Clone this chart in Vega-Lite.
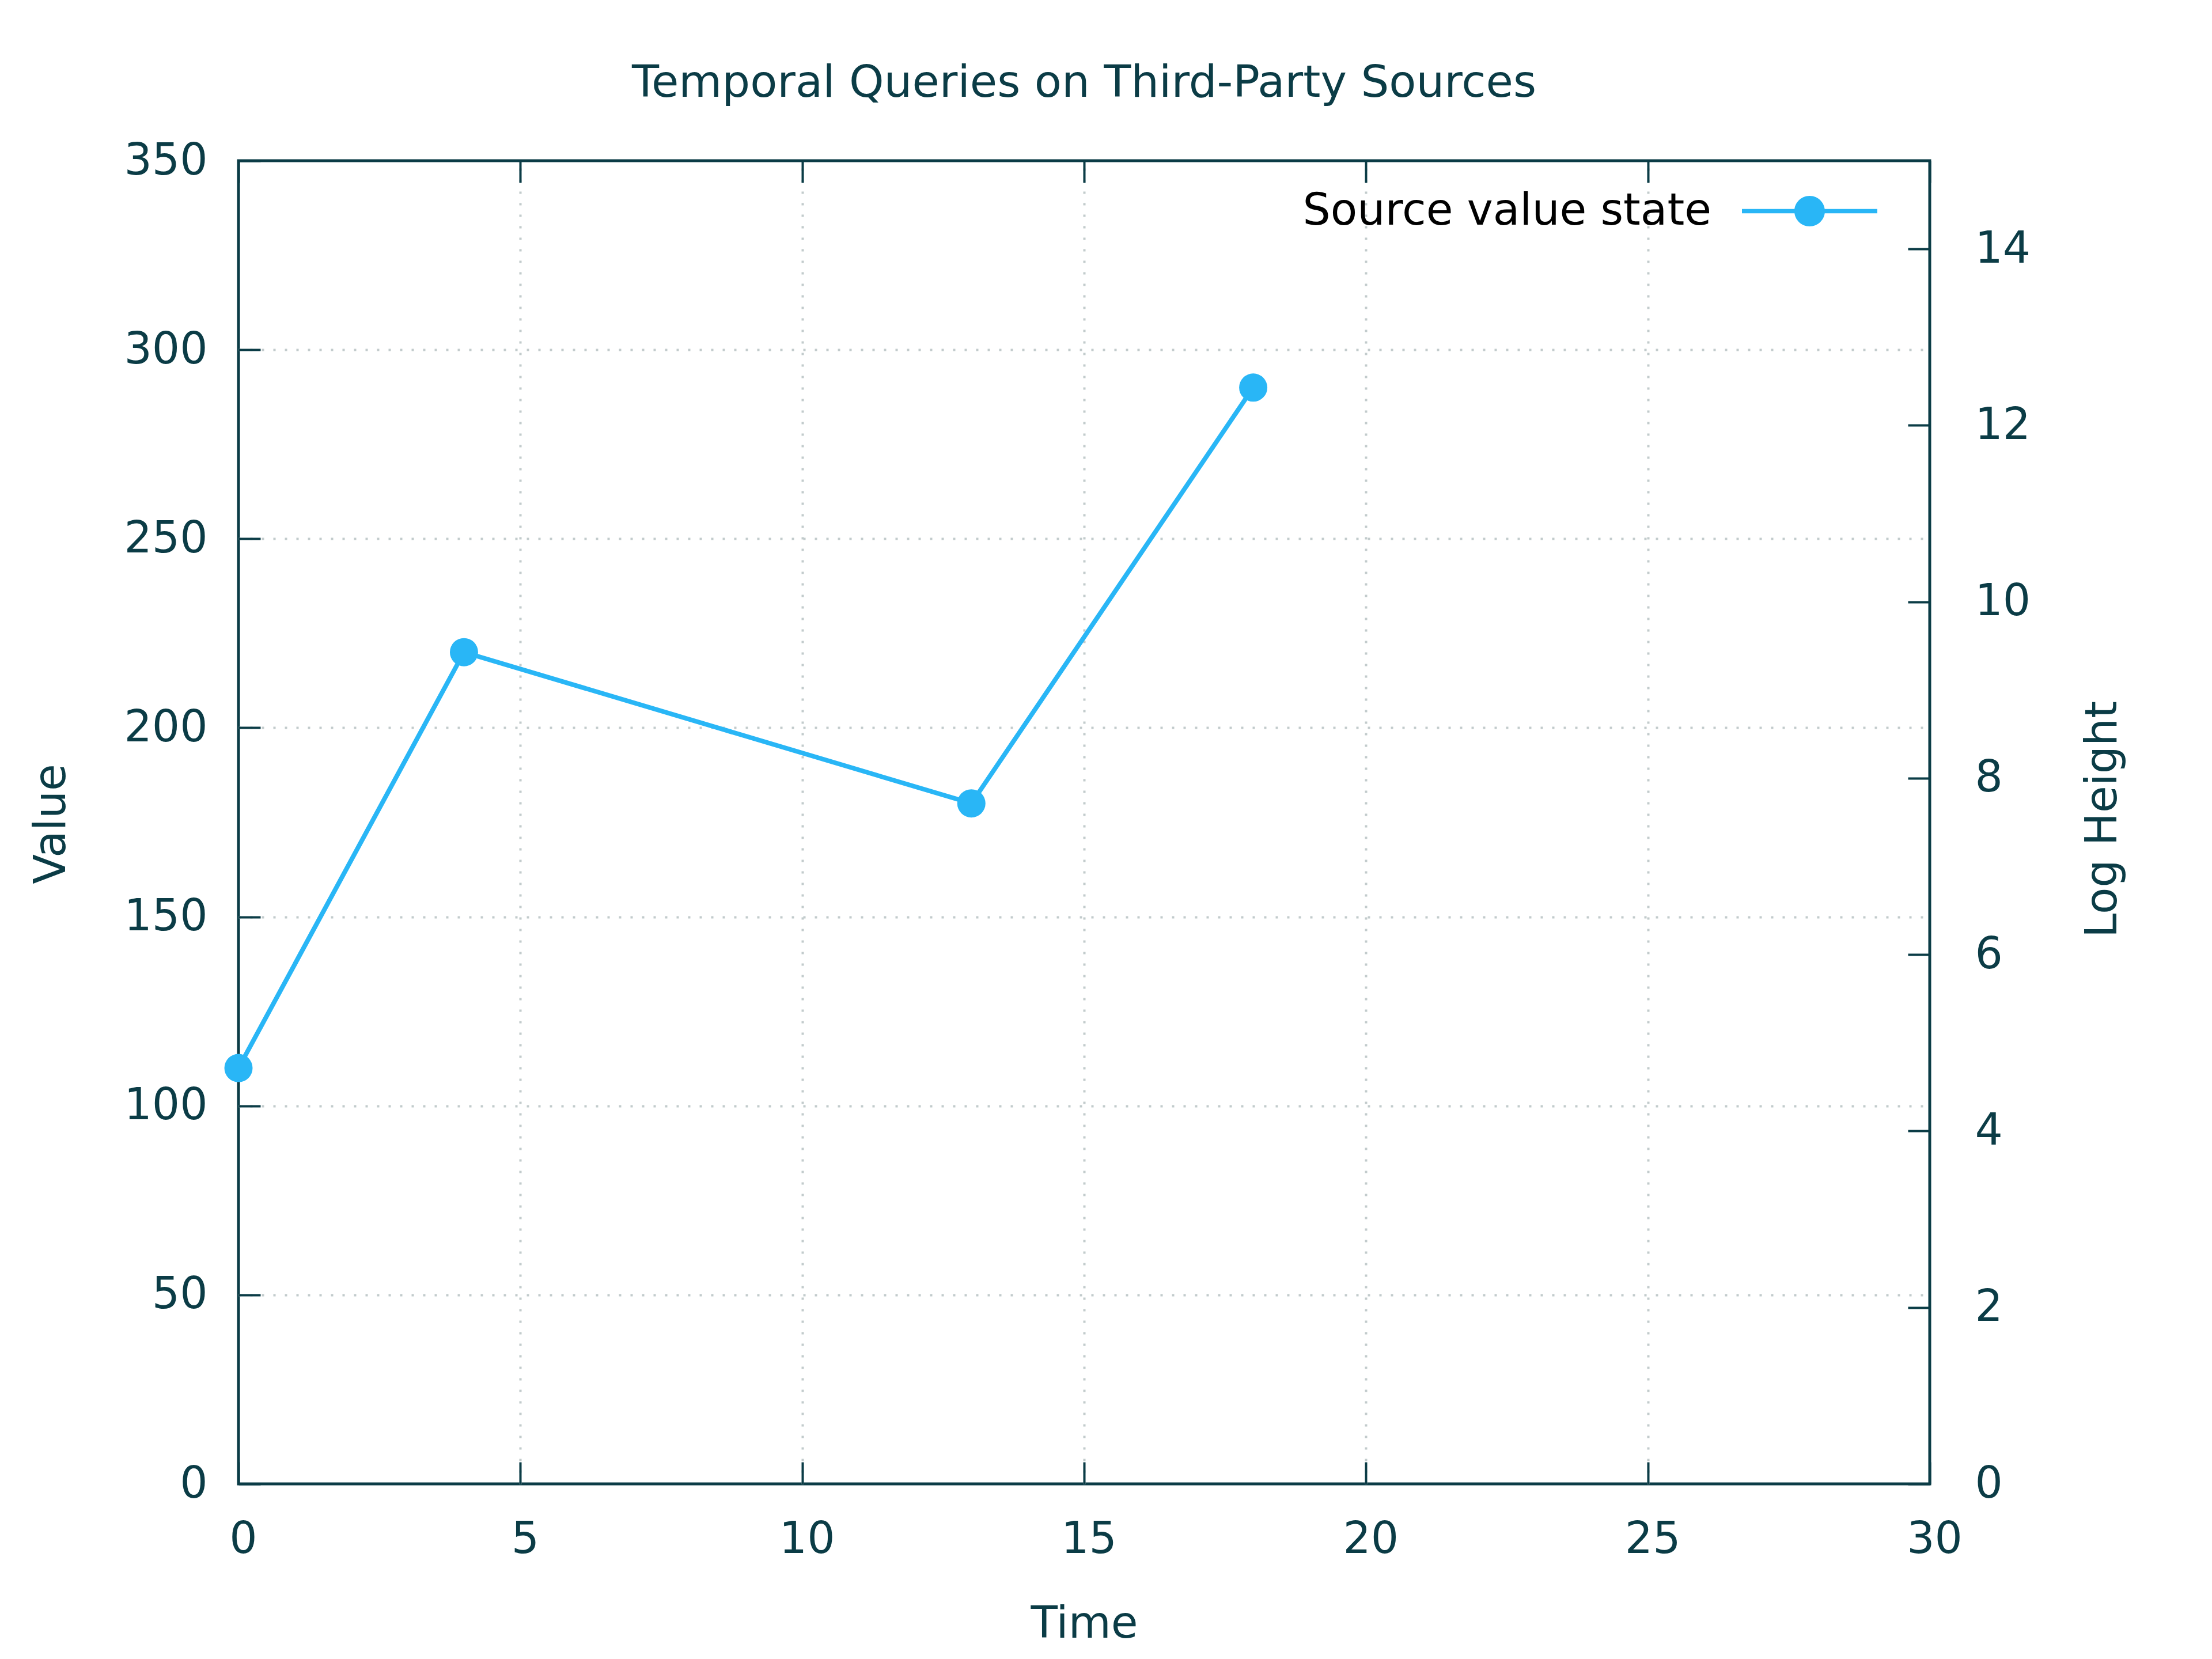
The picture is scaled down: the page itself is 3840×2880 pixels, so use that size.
{
  "$schema": "https://vega.github.io/schema/vega-lite/v6.json",
  "width": 2936,
  "height": 2297,
  "autosize": {"type": "none"},
  "padding": {"left": 414, "top": 279, "right": 490, "bottom": 304},
  "background": "#ffffff",
  "title": {
    "text": "Temporal Queries on Third-Party Sources",
    "font": "DejaVu Sans",
    "fontSize": 77,
    "fontWeight": "normal",
    "color": "#0b3c46",
    "frame": "group",
    "anchor": "middle",
    "baseline": "alphabetic",
    "offset": -4
  },
  "data": {
    "values": [
      {"time": 0, "value": 110, "series": "Source value state"},
      {"time": 4, "value": 220, "series": "Source value state"},
      {"time": 13, "value": 180, "series": "Source value state"},
      {"time": 18, "value": 290, "series": "Source value state"}
    ]
  },
  "layer": [
    {
      "layer": [
        {
          "mark": {"type": "point", "opacity": 0},
          "encoding": {
            "x": {
              "field": "time", "type": "quantitative",
              "scale": {"domain": [0, 30], "nice": false, "zero": false},
              "axis": {
                "orient": "top",
                "values": [5, 10, 15, 20, 25],
                "labels": false,
                "ticks": false,
                "title": null,
                "grid": true
              }
            },
            "y": {
              "field": "value", "type": "quantitative",
              "scale": {"domain": [0, 350], "nice": false},
              "axis": {
                "orient": "left",
                "values": [50, 100, 150, 200, 250, 300],
                "labels": false,
                "ticks": false,
                "title": null,
                "grid": true
              }
            }
          }
        },
        {
          "mark": {"type": "line", "color": "#29b6f6", "strokeWidth": 8},
          "encoding": {
            "x": {
              "field": "time", "type": "quantitative",
              "scale": {"domain": [0, 30], "nice": false, "zero": false},
              "axis": {
                "orient": "bottom",
                "values": [0, 5, 10, 15, 20, 25, 30],
                "title": "Time",
                "titleY": 266,
                "titleBaseline": "alphabetic",
                "grid": false,
                "labelPadding": 97,
                "labelOffset": 8,
                "labelBaseline": "top"
              }
            },
            "y": {
              "field": "value", "type": "quantitative",
              "scale": {"domain": [0, 350], "nice": false},
              "axis": {
                "orient": "left",
                "values": [0, 50, 100, 150, 200, 250, 300, 350],
                "title": "Value",
                "titleAngle": 270,
                "titleX": -302,
                "titleY": 1151,
                "titleAlign": "center",
                "titleBaseline": "alphabetic",
                "grid": false,
                "labelPadding": 92,
                "labelBaseline": "middle"
              }
            }
          }
        },
        {
          "mark": {"type": "point", "filled": true, "size": 2400, "opacity": 1},
          "encoding": {
            "x": {"field": "time", "type": "quantitative", "scale": {"domain": [0, 30], "nice": false, "zero": false}, "axis": null},
            "y": {"field": "value", "type": "quantitative", "scale": {"domain": [0, 350], "nice": false}, "axis": null},
            "color": {
              "field": "series", "type": "nominal",
              "scale": {"range": ["#29b6f6"]},
              "legend": {
                "orient": "none",
                "legendX": 2610,
                "legendY": -30,
                "title": null,
                "padding": 0,
                "symbolType": "M-1,-0.032L1,-0.032L1,0.032L-1,0.032Z M-0.2255,0 A0.2255,0.2255 0 1,1 0.2255,0 A0.2255,0.2255 0 1,1 -0.2255,0 Z",
                "symbolSize": 55225,
                "symbolStrokeWidth": 0,
                "symbolFillColor": "#29b6f6",
                "symbolOpacity": 1,
                "labelAlign": "right",
                "labelBaseline": "middle",
                "labelOffset": -288,
                "labelFont": "DejaVu Sans",
                "labelFontSize": 76,
                "labelColor": "#000000",
                "labelLimit": 0
              }
            }
          }
        },
        {
          "mark": {"type": "point", "opacity": 0},
          "encoding": {
            "x": {
              "field": "time", "type": "quantitative",
              "scale": {"domain": [0, 30], "nice": false, "zero": false},
              "axis": {
                "orient": "top",
                "values": [0, 5, 10, 15, 20, 25, 30],
                "labels": false,
                "title": null,
                "grid": false
              }
            },
            "y": {"field": "value", "type": "quantitative", "scale": {"domain": [0, 350], "nice": false}, "axis": null}
          }
        }
      ],
      "resolve": {"axis": {"x": "independent", "y": "independent"}}
    },
    {
      "mark": {"type": "point", "opacity": 0},
      "encoding": {
        "x": {"field": "time", "type": "quantitative", "scale": {"domain": [0, 30], "nice": false, "zero": false}, "axis": null},
        "y": {
          "datum": 0, "type": "quantitative",
          "scale": {"domain": [0, 15], "nice": false},
          "axis": {
            "orient": "right",
            "values": [0, 2, 4, 6, 8, 10, 12, 14],
            "title": "Log Height",
            "titleAngle": 270,
            "titleX": 323,
            "titleY": 1143,
            "titleAlign": "center",
            "titleBaseline": "alphabetic",
            "grid": false,
            "labelPadding": 116,
            "labelBaseline": "middle",
            "labelAlign": "left"
          }
        }
      }
    }
  ],
  "resolve": {"scale": {"y": "independent"}, "axis": {"x": "independent", "y": "independent"}},
  "config": {
    "font": "DejaVu Sans",
    "view": {"stroke": "#0b3c46", "strokeWidth": 5},
    "axis": {
      "domain": false,
      "ticks": true,
      "tickSize": -38,
      "tickWidth": 4,
      "tickColor": "#0b3c46",
      "gridColor": "#c2cbcc",
      "gridDash": [4, 16],
      "gridWidth": 4,
      "gridOpacity": 1,
      "labelFont": "DejaVu Sans",
      "labelFontSize": 76,
      "labelColor": "#0b3c46",
      "labelFlush": false,
      "labelOverlap": false,
      "titleFont": "DejaVu Sans",
      "titleFontSize": 76,
      "titleFontWeight": "normal",
      "titleColor": "#0b3c46"
    }
  }
}
